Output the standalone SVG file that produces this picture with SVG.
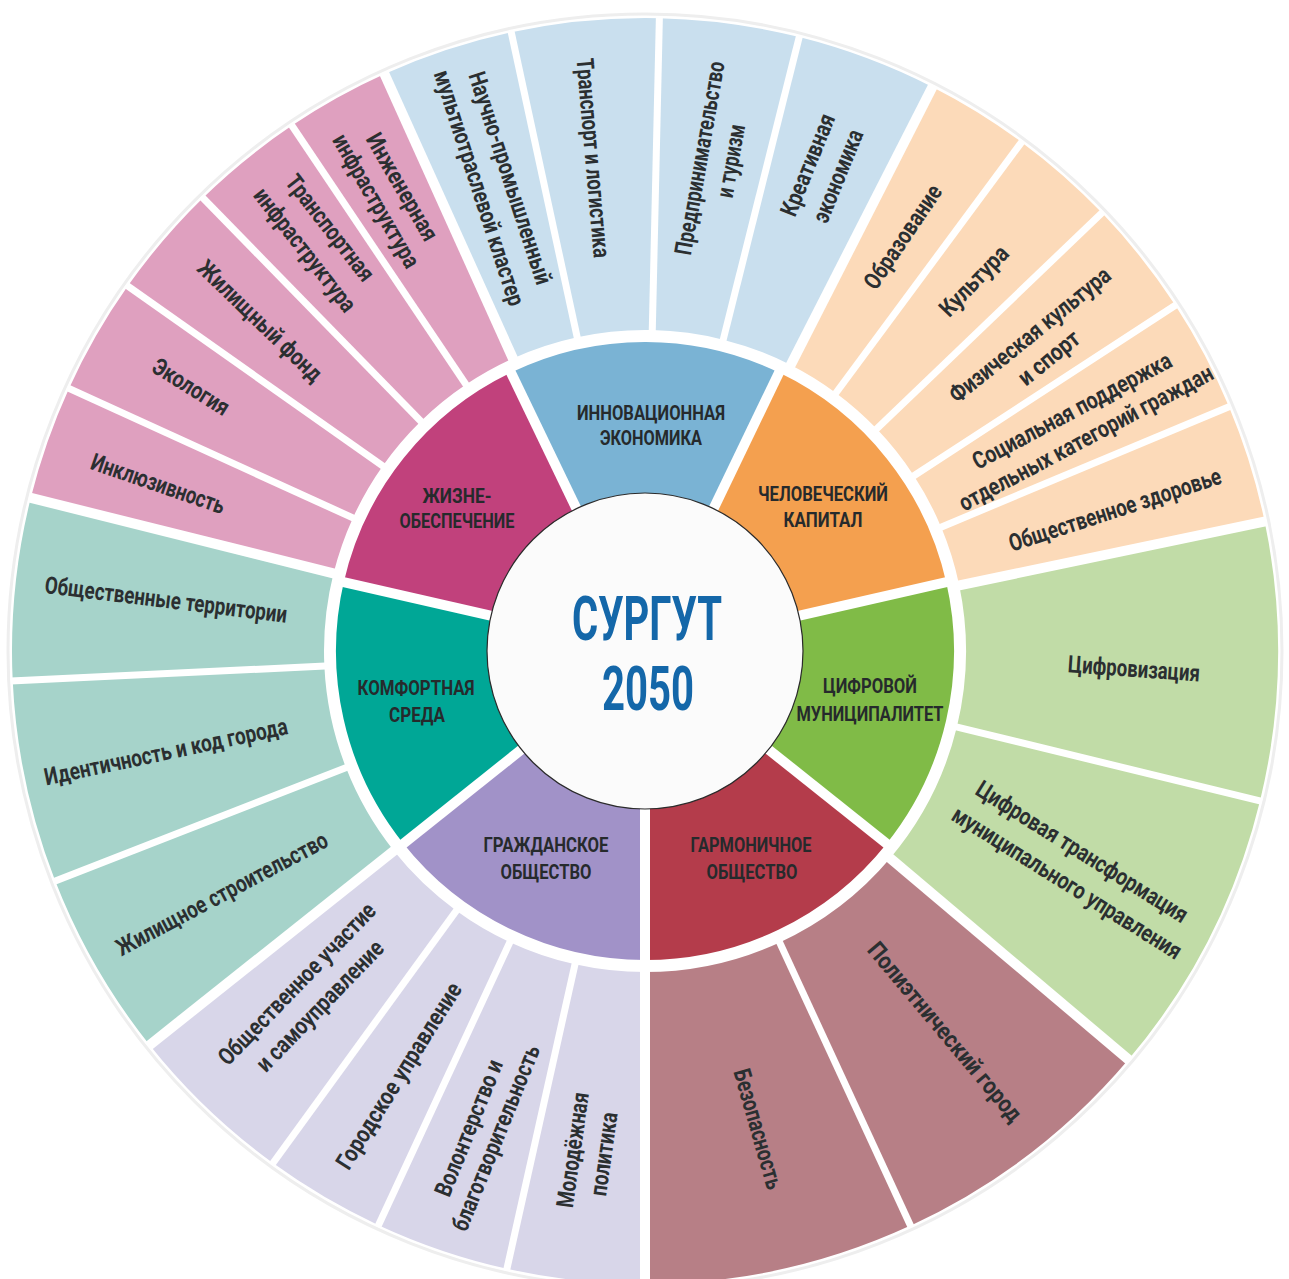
<svg xmlns="http://www.w3.org/2000/svg" width="1289" height="1279" viewBox="0 0 1289 1279">
<style>
.o{fill:none;stroke-width:312}
.m{fill:none;stroke-width:159}
.t{font-family:"Roboto","Liberation Sans","DejaVu Sans",sans-serif;font-size:24px;font-weight:700;fill:#2b2f31;text-anchor:middle}
.h{font-family:"Roboto","Liberation Sans","DejaVu Sans",sans-serif;font-size:20.5px;font-weight:700;fill:#262a2c;text-anchor:middle}
.c{font-family:"Roboto","Liberation Sans","DejaVu Sans",sans-serif;font-size:61px;font-weight:700;fill:#1467a9;text-anchor:middle}
.s7{stroke:#fff;stroke-width:7}
.s10{stroke:#fff;stroke-width:10}
</style>
<rect width="1289" height="1279" fill="#fff"/>
<circle cx="645" cy="651" r="637" fill="none" stroke="#eeeeee" stroke-width="3"/>

<!-- outer ring -->
<g id="n-inkluzivnost"><circle class="o" cx="645" cy="651" r="477" stroke="#dfa0bf" stroke-dasharray="87.41 3000" transform="rotate(194 645 651)"/>
<text class="t" transform="translate(158 484) rotate(19)" dy="0.33em" textLength="140" lengthAdjust="spacingAndGlyphs">Инклюзивность</text></g>
<g id="n-ekologiya"><circle class="o" cx="645" cy="651" r="477" stroke="#dfa0bf" stroke-dasharray="89.08 3000" transform="rotate(204.5 645 651)"/>
<text class="t" transform="translate(191 387) rotate(32)" dy="0.33em" textLength="86" lengthAdjust="spacingAndGlyphs">Экология</text></g>
<g id="n-zhil-fond"><circle class="o" cx="645" cy="651" r="477" stroke="#dfa0bf" stroke-dasharray="87.41 3000" transform="rotate(215.2 645 651)"/>
<text class="t" transform="translate(260 321) rotate(44)" dy="0.33em" textLength="163" lengthAdjust="spacingAndGlyphs">Жилищный фонд</text></g>
<g id="n-transp-infra"><circle class="o" cx="645" cy="651" r="477" stroke="#dfa0bf" stroke-dasharray="86.58 3000" transform="rotate(225.7 645 651)"/>
<text class="t" transform="translate(330 228) rotate(52)" dy="0.33em" textLength="128" lengthAdjust="spacingAndGlyphs">Транспортная</text>
<text class="t" transform="translate(305 250) rotate(52)" dy="0.33em" textLength="150" lengthAdjust="spacingAndGlyphs">инфраструктура</text></g>
<g id="n-inzh-infra"><circle class="o" cx="645" cy="651" r="477" stroke="#dfa0bf" stroke-dasharray="79.92 3000" transform="rotate(236.1 645 651)"/>
<text class="t" transform="translate(402 187) rotate(60)" dy="0.33em" textLength="120" lengthAdjust="spacingAndGlyphs">Инженерная</text>
<text class="t" transform="translate(376 201) rotate(60)" dy="0.33em" textLength="150" lengthAdjust="spacingAndGlyphs">инфраструктура</text></g>

<g id="n-nauchno"><circle class="o" cx="645" cy="651" r="477" stroke="#c9dfee" stroke-dasharray="100.73 3000" transform="rotate(245.7 645 651)"/>
<text class="t" transform="translate(510 178) rotate(72)" dy="0.33em" textLength="222" lengthAdjust="spacingAndGlyphs">Научно-промышленный</text>
<text class="t" transform="translate(479 188) rotate(72)" dy="0.33em" textLength="246" lengthAdjust="spacingAndGlyphs">мультиотраслевой кластер</text></g>
<g id="n-transport"><circle class="o" cx="645" cy="651" r="477" stroke="#c9dfee" stroke-dasharray="112.39 3000" transform="rotate(257.8 645 651)"/>
<text class="t" transform="translate(593 158) rotate(85)" dy="0.33em" textLength="200" lengthAdjust="spacingAndGlyphs">Транспорт и логистика</text></g>
<g id="n-predpr"><circle class="o" cx="645" cy="651" r="477" stroke="#c9dfee" stroke-dasharray="106.56 3000" transform="rotate(271.3 645 651)"/>
<text class="t" transform="translate(700 158) rotate(-80)" dy="0.33em" textLength="196" lengthAdjust="spacingAndGlyphs">Предпринимательство</text>
<text class="t" transform="translate(731 161) rotate(-80)" dy="0.33em" textLength="74" lengthAdjust="spacingAndGlyphs">и туризм</text></g>
<g id="n-kreativ"><circle class="o" cx="645" cy="651" r="477" stroke="#c9dfee" stroke-dasharray="107.40 3000" transform="rotate(284.1 645 651)"/>
<text class="t" transform="translate(808 165) rotate(-68)" dy="0.33em" textLength="108" lengthAdjust="spacingAndGlyphs">Креативная</text>
<text class="t" transform="translate(838 176) rotate(-68)" dy="0.33em" textLength="98" lengthAdjust="spacingAndGlyphs">экономика</text></g>

<g id="n-obrazovanie"><circle class="o" cx="645" cy="651" r="477" stroke="#fcdab9" stroke-dasharray="79.09 3000" transform="rotate(297 645 651)"/>
<text class="t" transform="translate(903 237) rotate(-56)" dy="0.33em" textLength="120" lengthAdjust="spacingAndGlyphs">Образование</text></g>
<g id="n-kultura"><circle class="o" cx="645" cy="651" r="477" stroke="#fcdab9" stroke-dasharray="80.75 3000" transform="rotate(306.5 645 651)"/>
<text class="t" transform="translate(974 281) rotate(-46)" dy="0.33em" textLength="88" lengthAdjust="spacingAndGlyphs">Культура</text></g>
<g id="n-sport"><circle class="o" cx="645" cy="651" r="477" stroke="#fcdab9" stroke-dasharray="89.08 3000" transform="rotate(316.2 645 651)"/>
<text class="t" transform="translate(1030 335) rotate(-39)" dy="0.33em" textLength="200" lengthAdjust="spacingAndGlyphs">Физическая культура</text>
<text class="t" transform="translate(1049 358) rotate(-39)" dy="0.33em" textLength="72" lengthAdjust="spacingAndGlyphs">и спорт</text></g>
<g id="n-socpodderzhka"><circle class="o" cx="645" cy="651" r="477" stroke="#fcdab9" stroke-dasharray="86.58 3000" transform="rotate(326.9 645 651)"/>
<text class="t" transform="translate(1072 411) rotate(-28)" dy="0.33em" textLength="222" lengthAdjust="spacingAndGlyphs">Социальная поддержка</text>
<text class="t" transform="translate(1086 438) rotate(-28)" dy="0.33em" textLength="284" lengthAdjust="spacingAndGlyphs">отдельных категорий граждан</text></g>
<g id="n-zdorovie"><circle class="o" cx="645" cy="651" r="477" stroke="#fcdab9" stroke-dasharray="90.74 3000" transform="rotate(337.3 645 651)"/>
<text class="t" transform="translate(1115 510) rotate(-18)" dy="0.33em" textLength="222" lengthAdjust="spacingAndGlyphs">Общественное здоровье</text></g>

<g id="n-cifrovizaciya"><circle class="o" cx="645" cy="651" r="477" stroke="#c1dca7" stroke-dasharray="212.29 3000" transform="rotate(348.2 645 651)"/>
<text class="t" transform="translate(1134 669) rotate(4)" dy="0.33em" textLength="132" lengthAdjust="spacingAndGlyphs">Цифровизация</text></g>
<g id="n-cifr-transform"><circle class="o" cx="645" cy="651" r="477" stroke="#c1dca7" stroke-dasharray="220.62 3000" transform="rotate(13.7 645 651)"/>
<text class="t" transform="translate(1082 852) rotate(32)" dy="0.33em" textLength="245" lengthAdjust="spacingAndGlyphs">Цифровая трансформация</text>
<text class="t" transform="translate(1067 883) rotate(32)" dy="0.33em" textLength="266" lengthAdjust="spacingAndGlyphs">муниципального управления</text></g>

<g id="n-polietnich"><circle class="o" cx="645" cy="651" r="477" stroke="#b77f86" stroke-dasharray="208.13 3000" transform="rotate(40.2 645 651)"/>
<text class="t" transform="translate(945 1032) rotate(50)" dy="0.33em" textLength="226" lengthAdjust="spacingAndGlyphs">Полиэтнический город</text></g>
<g id="n-bezopasnost"><circle class="o" cx="645" cy="651" r="477" stroke="#b77f86" stroke-dasharray="206.46 3000" transform="rotate(65.2 645 651)"/>
<text class="t" transform="translate(758 1129) rotate(74)" dy="0.33em" textLength="124" lengthAdjust="spacingAndGlyphs">Безопасность</text></g>

<g id="n-molodezh"><circle class="o" cx="645" cy="651" r="477" stroke="#d8d6e9" stroke-dasharray="104.90 3000" transform="rotate(90 645 651)"/>
<text class="t" transform="translate(573 1150) rotate(-82)" dy="0.33em" textLength="116" lengthAdjust="spacingAndGlyphs">Молодёжная</text>
<text class="t" transform="translate(604 1154) rotate(-82)" dy="0.33em" textLength="84" lengthAdjust="spacingAndGlyphs">политика</text></g>
<g id="n-volonterstvo"><circle class="o" cx="645" cy="651" r="477" stroke="#d8d6e9" stroke-dasharray="102.40 3000" transform="rotate(102.6 645 651)"/>
<text class="t" transform="translate(469 1128) rotate(-68)" dy="0.33em" textLength="145" lengthAdjust="spacingAndGlyphs">Волонтерство и</text>
<text class="t" transform="translate(496 1138) rotate(-68)" dy="0.33em" textLength="198" lengthAdjust="spacingAndGlyphs">благотворительность</text></g>
<g id="n-gor-upravlenie"><circle class="o" cx="645" cy="651" r="477" stroke="#d8d6e9" stroke-dasharray="92.41 3000" transform="rotate(114.9 645 651)"/>
<text class="t" transform="translate(399 1076) rotate(-58)" dy="0.33em" textLength="215" lengthAdjust="spacingAndGlyphs">Городское управление</text></g>
<g id="n-uchastie"><circle class="o" cx="645" cy="651" r="477" stroke="#d8d6e9" stroke-dasharray="129.04 3000" transform="rotate(126 645 651)"/>
<text class="t" transform="translate(297 984) rotate(-46)" dy="0.33em" textLength="215" lengthAdjust="spacingAndGlyphs">Общественное участие</text>
<text class="t" transform="translate(320 1006) rotate(-46)" dy="0.33em" textLength="172" lengthAdjust="spacingAndGlyphs">и самоуправление</text></g>

<g id="n-zhil-stroitelstvo"><circle class="o" cx="645" cy="651" r="477" stroke="#a6d3ca" stroke-dasharray="143.19 3000" transform="rotate(141.5 645 651)"/>
<text class="t" transform="translate(222 894) rotate(-28)" dy="0.33em" textLength="236" lengthAdjust="spacingAndGlyphs">Жилищное строительство</text></g>
<g id="n-identichnost"><circle class="o" cx="645" cy="651" r="477" stroke="#a6d3ca" stroke-dasharray="154.85 3000" transform="rotate(158.7 645 651)"/>
<text class="t" transform="translate(166 752) rotate(-12)" dy="0.33em" textLength="248" lengthAdjust="spacingAndGlyphs">Идентичность и код города</text></g>
<g id="n-obsch-territorii"><circle class="o" cx="645" cy="651" r="477" stroke="#a6d3ca" stroke-dasharray="139.03 3000" transform="rotate(177.3 645 651)"/>
<text class="t" transform="translate(166 600) rotate(7)" dy="0.33em" textLength="244" lengthAdjust="spacingAndGlyphs">Общественные территории</text></g>

<!-- middle ring -->
<g id="c-zhizneobespechenie"><circle class="m" cx="645" cy="651" r="229.5" stroke="#c1417c" stroke-dasharray="207 1500" transform="rotate(192.86 645 651)"/>
<text class="h" x="457" y="496" dy="0.355em" textLength="69" lengthAdjust="spacingAndGlyphs">ЖИЗНЕ-</text>
<text class="h" x="457" y="521" dy="0.355em" textLength="115" lengthAdjust="spacingAndGlyphs">ОБЕСПЕЧЕНИЕ</text></g>
<g id="c-innovacionnaya"><circle class="m" cx="645" cy="651" r="229.5" stroke="#7ab3d4" stroke-dasharray="207 1500" transform="rotate(244.29 645 651)"/>
<text class="h" x="651" y="413" dy="0.355em" textLength="148" lengthAdjust="spacingAndGlyphs">ИННОВАЦИОННАЯ</text>
<text class="h" x="651" y="438" dy="0.355em" textLength="102" lengthAdjust="spacingAndGlyphs">ЭКОНОМИКА</text></g>
<g id="c-chelovecheskiy"><circle class="m" cx="645" cy="651" r="229.5" stroke="#f4a04f" stroke-dasharray="207 1500" transform="rotate(295.71 645 651)"/>
<text class="h" x="823" y="494" dy="0.355em" textLength="130" lengthAdjust="spacingAndGlyphs">ЧЕЛОВЕЧЕСКИЙ</text>
<text class="h" x="823" y="520" dy="0.355em" textLength="79" lengthAdjust="spacingAndGlyphs">КАПИТАЛ</text></g>
<g id="c-cifrovoy"><circle class="m" cx="645" cy="651" r="229.5" stroke="#80bb47" stroke-dasharray="207 1500" transform="rotate(347.14 645 651)"/>
<text class="h" x="870" y="686" dy="0.355em" textLength="94" lengthAdjust="spacingAndGlyphs">ЦИФРОВОЙ</text>
<text class="h" x="870" y="714" dy="0.355em" textLength="147" lengthAdjust="spacingAndGlyphs">МУНИЦИПАЛИТЕТ</text></g>
<g id="c-garmonichnoe"><circle class="m" cx="645" cy="651" r="229.5" stroke="#b43c4b" stroke-dasharray="207 1500" transform="rotate(38.57 645 651)"/>
<text class="h" x="751" y="845" dy="0.355em" textLength="121" lengthAdjust="spacingAndGlyphs">ГАРМОНИЧНОЕ</text>
<text class="h" x="752" y="872" dy="0.355em" textLength="91" lengthAdjust="spacingAndGlyphs">ОБЩЕСТВО</text></g>
<g id="c-grazhdanskoe"><circle class="m" cx="645" cy="651" r="229.5" stroke="#a192c8" stroke-dasharray="207 1500" transform="rotate(90 645 651)"/>
<text class="h" x="546" y="845" dy="0.355em" textLength="125" lengthAdjust="spacingAndGlyphs">ГРАЖДАНСКОЕ</text>
<text class="h" x="546" y="872" dy="0.355em" textLength="91" lengthAdjust="spacingAndGlyphs">ОБЩЕСТВО</text></g>
<g id="c-komfortnaya"><circle class="m" cx="645" cy="651" r="229.5" stroke="#00a796" stroke-dasharray="207 1500" transform="rotate(141.43 645 651)"/>
<text class="h" x="416" y="688" dy="0.355em" textLength="117" lengthAdjust="spacingAndGlyphs">КОМФОРТНАЯ</text>
<text class="h" x="417" y="715" dy="0.355em" textLength="56" lengthAdjust="spacingAndGlyphs">СРЕДА</text></g>

<!-- separators -->
<g id="separators">
<g class="s7">
<line x1="960" y1="651" x2="1280" y2="651" transform="rotate(204.5 645 651)"/>
<line x1="960" y1="651" x2="1280" y2="651" transform="rotate(215.2 645 651)"/>
<line x1="960" y1="651" x2="1280" y2="651" transform="rotate(225.7 645 651)"/>
<line x1="960" y1="651" x2="1280" y2="651" transform="rotate(236.1 645 651)"/>
<line x1="960" y1="651" x2="1280" y2="651" transform="rotate(257.8 645 651)"/>
<line x1="960" y1="651" x2="1280" y2="651" transform="rotate(271.3 645 651)"/>
<line x1="960" y1="651" x2="1280" y2="651" transform="rotate(284.1 645 651)"/>
<line x1="960" y1="651" x2="1280" y2="651" transform="rotate(306.5 645 651)"/>
<line x1="960" y1="651" x2="1280" y2="651" transform="rotate(316.2 645 651)"/>
<line x1="960" y1="651" x2="1280" y2="651" transform="rotate(326.9 645 651)"/>
<line x1="960" y1="651" x2="1280" y2="651" transform="rotate(337.3 645 651)"/>
<line x1="960" y1="651" x2="1280" y2="651" transform="rotate(13.7 645 651)"/>
<line x1="960" y1="651" x2="1280" y2="651" transform="rotate(65.2 645 651)"/>
<line x1="960" y1="651" x2="1280" y2="651" transform="rotate(102.6 645 651)"/>
<line x1="960" y1="651" x2="1280" y2="651" transform="rotate(114.9 645 651)"/>
<line x1="960" y1="651" x2="1280" y2="651" transform="rotate(126 645 651)"/>
<line x1="960" y1="651" x2="1280" y2="651" transform="rotate(158.7 645 651)"/>
<line x1="960" y1="651" x2="1280" y2="651" transform="rotate(177.3 645 651)"/>
</g>
<g class="s10">
<line x1="960" y1="651" x2="1280" y2="651" transform="rotate(194 645 651)"/>
<line x1="960" y1="651" x2="1280" y2="651" transform="rotate(245.7 645 651)"/>
<line x1="960" y1="651" x2="1280" y2="651" transform="rotate(297 645 651)"/>
<line x1="960" y1="651" x2="1280" y2="651" transform="rotate(348.2 645 651)"/>
<line x1="960" y1="651" x2="1280" y2="651" transform="rotate(40.2 645 651)"/>
<line x1="960" y1="651" x2="1280" y2="651" transform="rotate(90 645 651)"/>
<line x1="960" y1="651" x2="1280" y2="651" transform="rotate(141.5 645 651)"/>
<line x1="790" y1="651" x2="962" y2="651" transform="rotate(90 645 651)"/>
<line x1="790" y1="651" x2="962" y2="651" transform="rotate(141.43 645 651)"/>
<line x1="790" y1="651" x2="962" y2="651" transform="rotate(192.86 645 651)"/>
<line x1="790" y1="651" x2="962" y2="651" transform="rotate(244.29 645 651)"/>
<line x1="790" y1="651" x2="962" y2="651" transform="rotate(295.71 645 651)"/>
<line x1="790" y1="651" x2="962" y2="651" transform="rotate(347.14 645 651)"/>
<line x1="790" y1="651" x2="962" y2="651" transform="rotate(38.57 645 651)"/>
</g>
</g>

<!-- center -->
<g id="center">
<circle cx="645" cy="651" r="158" fill="#fbfbfb" stroke="#2b2b2b" stroke-width="1.2"/>
<text class="c" x="647" y="618" dy="0.355em" textLength="150" lengthAdjust="spacingAndGlyphs">СУРГУТ</text>
<text class="c" x="648" y="688" dy="0.355em" textLength="92" lengthAdjust="spacingAndGlyphs">2050</text>
</g>
</svg>
